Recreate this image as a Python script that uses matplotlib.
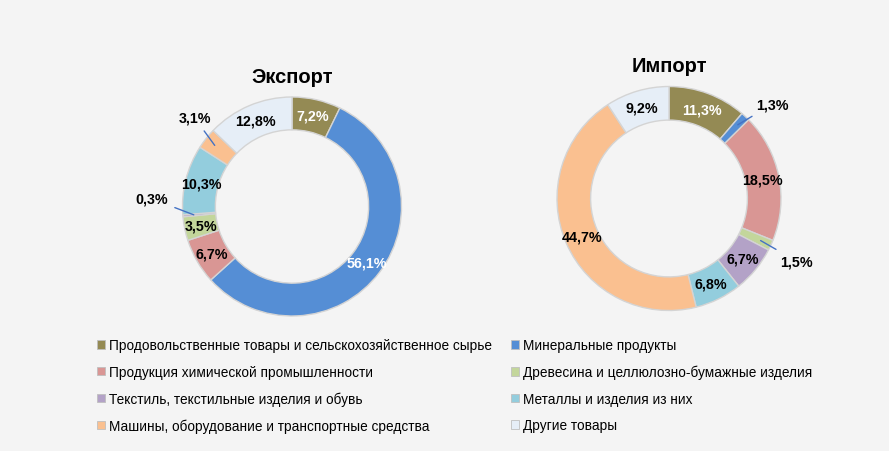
import matplotlib
matplotlib.use("Agg")
import matplotlib.pyplot as plt
from matplotlib.patches import Patch
import numpy as np

plt.rcParams['font.family'] = ['Liberation Sans', 'DejaVu Sans']

categories = [
    "Продовольственные товары и сельскохозяйственное сырье",
    "Минеральные продукты",
    "Продукция химической промышленности",
    "Древесина и целлюлозно-бумажные изделия",
    "Текстиль, текстильные изделия и обувь",
    "Металлы и изделия из них",
    "Машины, оборудование и транспортные средства",
    "Другие товары",
]
export_vals = [7.2, 56.1, 6.7, 3.5, 0.3, 10.3, 3.1, 12.8]
import_vals = [11.3, 1.3, 18.5, 1.5, 6.7, 6.8, 44.7, 9.2]
colors = ["#948A54", "#558ED5", "#D99694", "#C3D69B", "#B3A2C7", "#93CDDD", "#FAC090", "#E6EEF7"]
white_label = [True, True, False, False, False, False, False, False]

BG = "#F4F4F4"
W, H = 889, 452
fig = plt.figure(figsize=(W / 100, H / 100), dpi=100, facecolor=BG)


def donut(cx, cy, r, vals, title, outside):
    ax = fig.add_axes([(cx - r) / W, (H - cy - r) / H, 2 * r / W, 2 * r / H])
    ax.set_facecolor("none")
    wedges, _ = ax.pie(vals, colors=colors, startangle=90, counterclock=False,
                       radius=1.0, wedgeprops=dict(width=0.30, edgecolor="#D4D4D4", linewidth=1.0))
    ax.set_xlim(-1, 1)
    ax.set_ylim(-1, 1)
    ax.set_aspect("auto")
    ax.axis("off")
    for i, (w, v) in enumerate(zip(wedges, vals)):
        ang = np.deg2rad((w.theta1 + w.theta2) / 2)
        txt = f"{v:.1f}%".replace(".", ",")
        col = "white" if white_label[i] else "black"
        if i in outside:
            tx, ty = outside[i]
            ax.annotate(txt, xy=(0.9 * np.cos(ang), 0.9 * np.sin(ang)), xytext=(tx, ty),
                        ha="center", va="center", fontsize=10.3, fontweight="bold", color="black",
                        arrowprops=dict(arrowstyle="-", color="#4472C4", lw=1.0, shrinkA=3, shrinkB=0),
                        annotation_clip=False)
        else:
            ax.text(0.85 * np.cos(ang), 0.85 * np.sin(ang), txt, ha="center", va="center",
                    fontsize=10.3, fontweight="bold", color=col)
    ax.text(0, 1.19, title, ha="center", va="center", fontsize=14.5, fontweight="bold", color="black")
    return ax


donut(292, 207.5, 109.5, export_vals, "Экспорт", {6: (-0.89, 0.81), 4: (-1.28, 0.07)})
donut(669, 199.5, 112, import_vals, "Импорт", {1: (0.92, 0.84), 3: (1.14, -0.56)})

order_cols = [[0, 2, 4, 6], [1, 3, 5, 7]]
xs = [97 / W, 511 / W]
for col, x in zip(order_cols, xs):
    handles = [Patch(facecolor=colors[i], edgecolor="#BFBFBF", linewidth=0.6) for i in col]
    labels = [categories[i] for i in col]
    fig.legend(handles, labels, loc="upper left", bbox_to_anchor=(x, 1 - 339 / H),
               frameon=False, fontsize=9.8, handlelength=0.6, handleheight=0.6,
               handletextpad=0.3, labelspacing=0.93, borderaxespad=0, borderpad=0)

fig.savefig("out.png", dpi=100, facecolor=BG)
